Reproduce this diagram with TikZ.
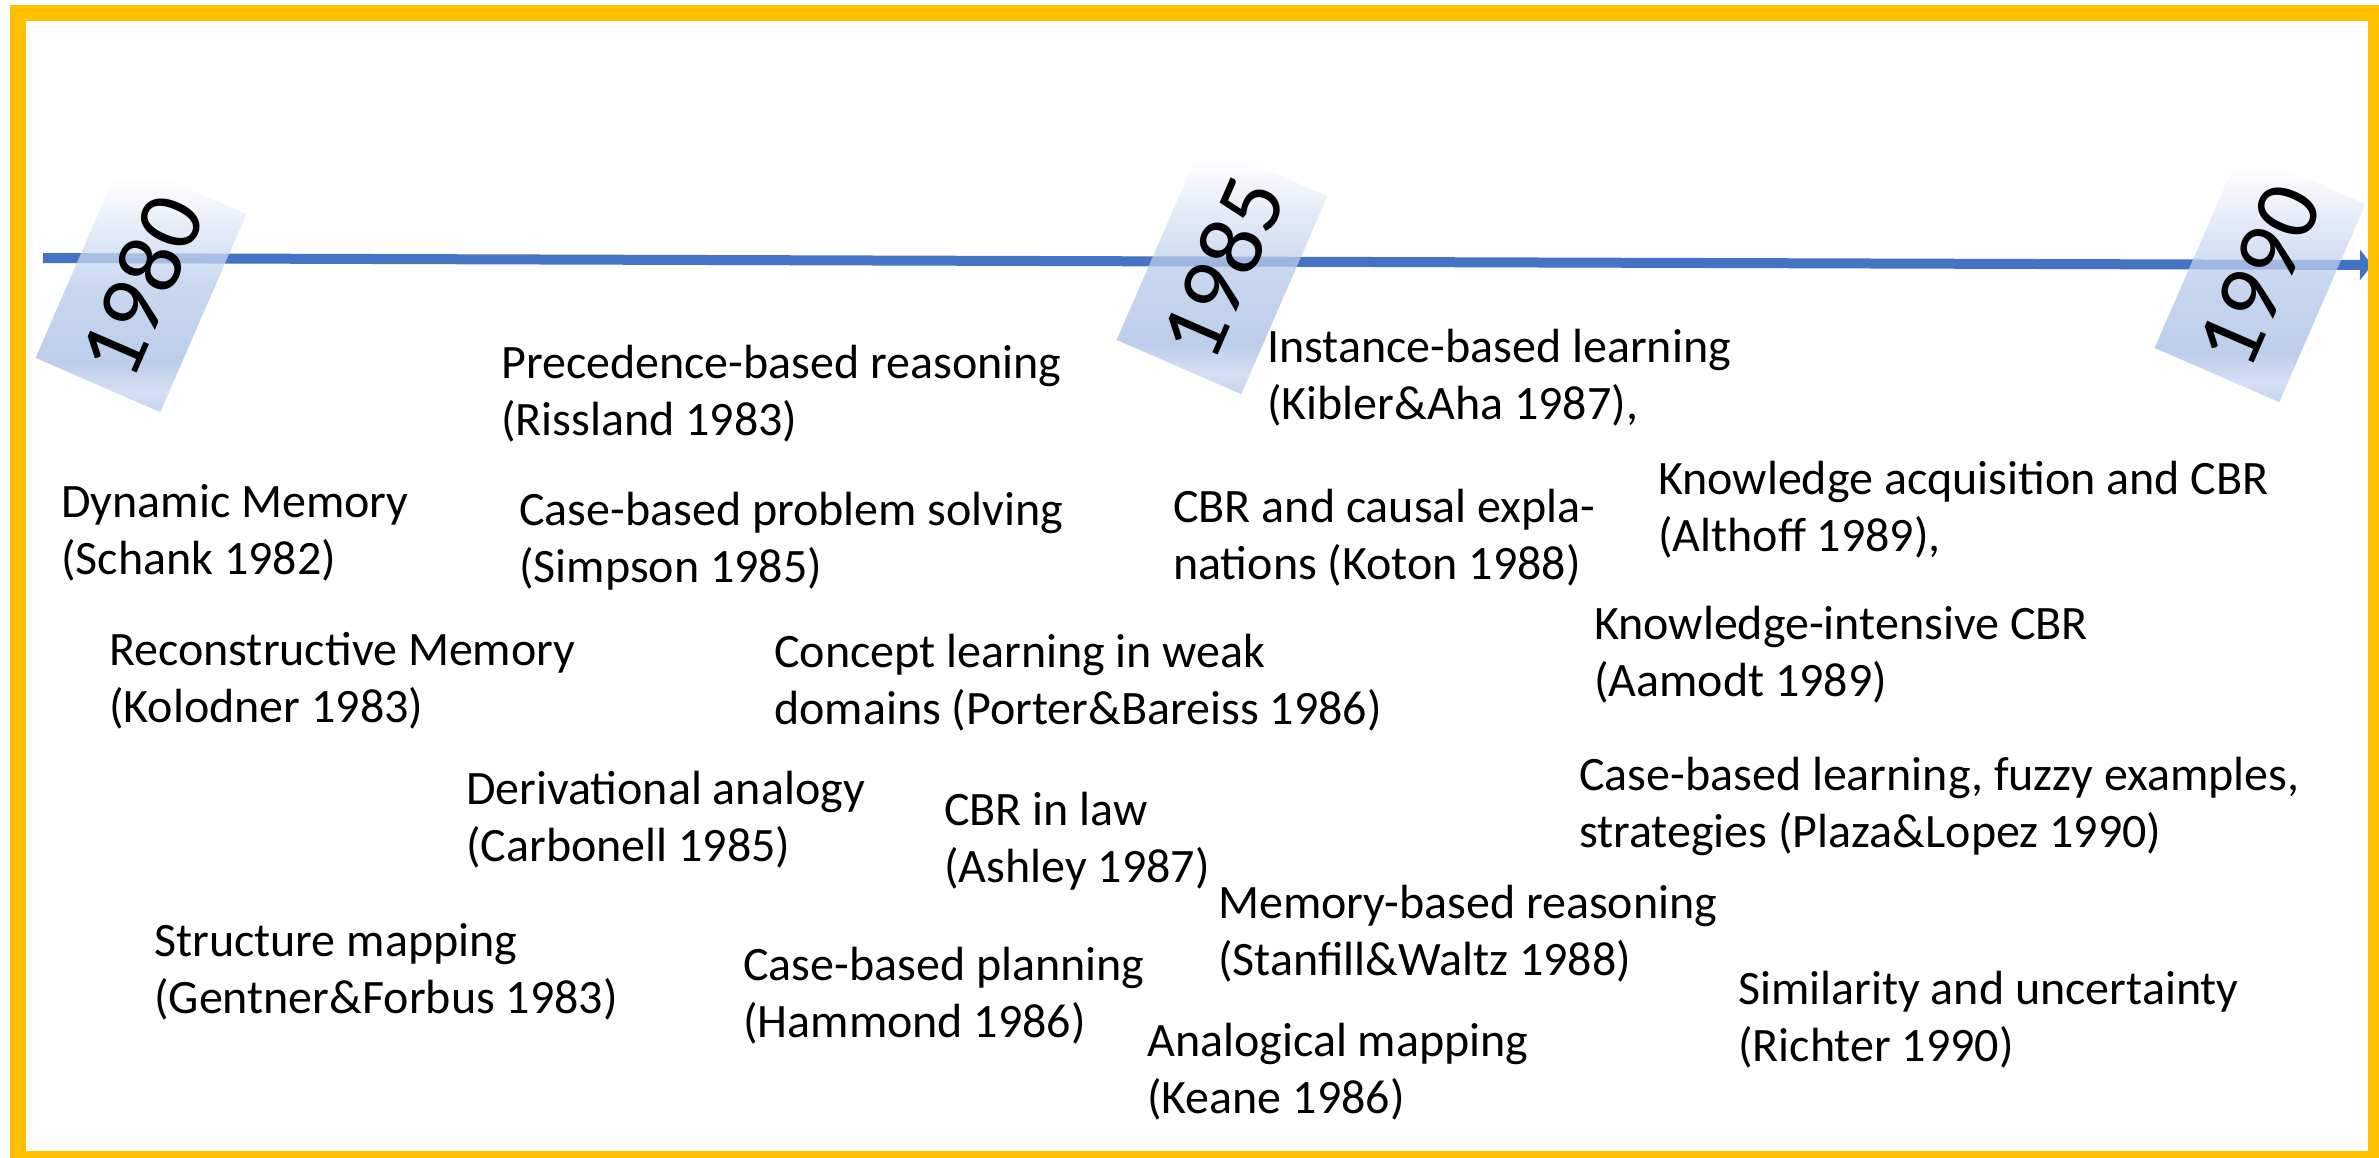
\documentclass[tikz,border=0pt]{standalone}
\usepackage{fontspec}
\setmainfont{Carlito}
\usetikzlibrary{arrows.meta}
\definecolor{frameyellow}{HTML}{FFC000}
\definecolor{lineblue}{HTML}{4472C4}
\definecolor{yb}{HTML}{A6BDE4}
% white on the upper side, blue below with a faint light band near the lower edge
\pgfdeclareverticalshading{yearfade}{100bp}{%
  color(0bp)=(yb); color(25bp)=(yb!85!white); color(29bp)=(yb!65!white);
  color(35bp)=(yb); color(50bp)=(yb!80!white); color(72bp)=(white); color(100bp)=(white)}
\begin{document}
\begin{tikzpicture}[x=1pt,y=-1pt,
  % two-line labels; the node base is the baseline of the second line
  event/.style={anchor=base west, align=left, inner sep=0pt, yshift=-57pt,
    font=\fontsize{48}{57}\selectfont},
  yearbox/.style={rotate=66.5, minimum width=216pt, minimum height=136pt,
    inner sep=0pt, shade, shading=yearfade, fill opacity=0.75, text opacity=1,
    font=\fontsize{92}{92}\selectfont},
  timeline/.style={draw=lineblue, line width=10pt,
    -{Triangle[length=12pt,width=30pt]}},
  frame/.style={draw=frameyellow, line width=16pt}]
\useasboundingbox (0,0) rectangle (2379,1157);

% time axis
\coordinate (tlstart) at (43,258);
\coordinate (tlend) at (2372,265);
\draw[timeline] (tlstart) -- (tlend);

% year tags
\node[yearbox] (y1980) at (141,286) {1980};
\node[yearbox] (y1985) at (1222,268) {1985};
\node[yearbox] (y1990) at (2260,276) {1990};

% events (positions give the baseline of the first line)
\node[event] (prec) at (501,378) {Precedence-based reasoning\\(Rissland 1983)};
\node[event] (dyn) at (61,517) {Dynamic Memory\\(Schank 1982)};
\node[event] (cbps) at (519,525) {Case-based problem solving\\(Simpson 1985)};
\node[event] (recon) at (109,665) {Reconstructive Memory\\(Kolodner 1983)};
\node[event] (concept) at (774,667) {Concept learning in weak\\domains (Porter\&Bareiss 1986)};
\node[event] (deriv) at (466,804) {Derivational analogy\\(Carbonell 1985)};
\node[event] (law) at (944,825) {CBR in law\\(Ashley 1987)};
\node[event] (struct) at (154,956) {Structure mapping\\(Gentner\&Forbus 1983)};
\node[event] (plan) at (743,980) {Case-based planning\\(Hammond 1986)};
\node[event] (mbr) at (1218,918) {Memory-based reasoning\\(Stanfill\&Waltz 1988)};
\node[event] (analog) at (1147,1056) {Analogical mapping\\(Keane 1986)};
\node[event] (ibl) at (1267,362) {Instance-based learning\\(Kibler\&Aha 1987),};
\node[event] (causal) at (1173,522) {CBR and causal expla-\\nations (Koton 1988)};
\node[event] (kacq) at (1658,494) {Knowledge acquisition and CBR\\(Althoff 1989),};
\node[event] (kint) at (1594,639) {Knowledge-intensive CBR\\(Aamodt 1989)};
\node[event] (fuzzy) at (1579,790) {Case-based learning, fuzzy examples,\\strategies (Plaza\&Lopez 1990)};
\node[event] (sim) at (1738,1004) {Similarity and uncertainty\\(Richter 1990)};

% outer frame
\draw[frame] (18,13) rectangle (2376,1159);
\end{tikzpicture}
\end{document}
